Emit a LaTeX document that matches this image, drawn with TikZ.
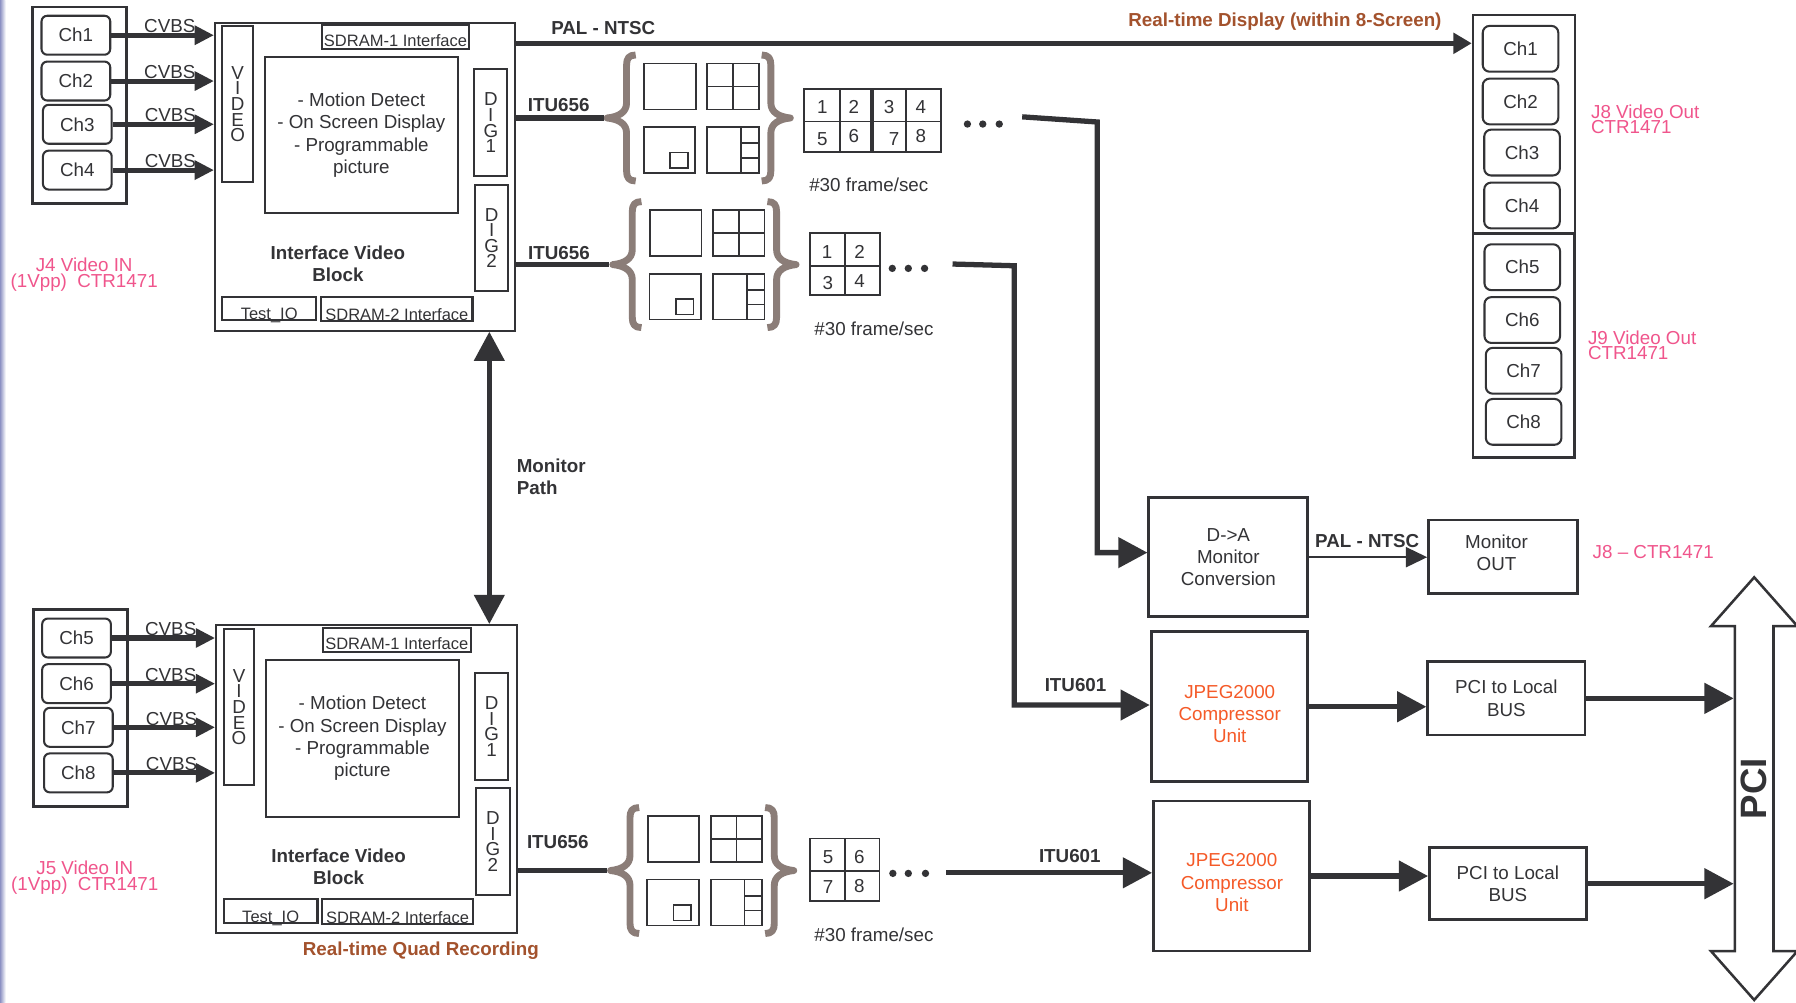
\documentclass[tikz,border=0pt]{standalone}
\usepackage{fontspec}
\setmainfont{Liberation Sans}
\usetikzlibrary{arrows.meta,shapes.arrows}
\definecolor{ink}{RGB}{51,51,54}
\definecolor{bracegray}{RGB}{139,125,120}
\definecolor{labelbrown}{RGB}{163,82,45}
\definecolor{jackpink}{RGB}{240,85,140}
\definecolor{jpegorange}{RGB}{245,90,40}
\definecolor{edgeblue}{RGB}{140,145,195}

\tikzset{
    screens/.pic={
        \draw[brace] (28,-55) .. controls (22,-55) and (20,-52) .. (20,-46) -- (20,-13) .. controls (20,-5) and (13,-1) .. (3,0) .. controls (13,1) and (20,5) .. (20,13) -- (20,46) .. controls (20,52) and (22,55) .. (28,55);
        \draw[brace] (138,-55) .. controls (144,-55) and (146,-52) .. (146,-46) -- (146,-13) .. controls (146,-5) and (153,-1) .. (163,0) .. controls (153,1) and (146,5) .. (146,13) -- (146,46) .. controls (146,52) and (144,55) .. (138,55);
        \draw[screen] (35.5,-47.5) rectangle (80.5,-7.5);
        \draw[screen] (90.5,-47.5) rectangle (135.5,-7.5) (113,-47.5) -- (113,-7.5) (90.5,-27.5) -- (135.5,-27.5);
        \draw[screen] (35,8) rectangle (80,48) (58,30) rectangle (73.5,43.5);
        \draw[screen] (90.5,8) rectangle (135.5,48) (120,8) -- (120,48) (120,22) -- (135.5,22) (120,35) -- (135.5,35);
        \coordinate (-in) at (0,0);
    }
}

\begin{document}
\begin{tikzpicture}[x=0.5pt,y=-0.5pt,
    txt/.style={font=\fontsize{8.2}{9.7}\selectfont, text=ink, align=center, inner sep=0pt},
    lbl/.style={txt, font=\fontsize{8.2}{9.7}\selectfont\bfseries},
    jack/.style={txt, font=\fontsize{8.2}{7}\selectfont, text=jackpink},
    box/.style={txt, draw=ink, line width=0.9pt},
    chbox/.style={box, rounded corners=2.5pt, minimum width=30pt, minimum height=17pt},
    choutbox/.style={box, rounded corners=3pt, minimum width=33pt, minimum height=20pt},
    iface/.style={box, font=\fontsize{7.2}{8}\selectfont, text depth=0pt},
    letters/.style={font=\fontsize{8.2}{6.8}\selectfont},
    unit/.style={box, line width=1.2pt},
    sig/.style={draw=ink, line width=2.2pt, -{Triangle[length=8.4pt,width=8pt]}},
    palsig/.style={draw=ink, line width=2.3pt, -{Triangle[length=8pt,width=8.8pt]}},
    bigsig/.style={draw=ink, line width=2.3pt, -{Triangle[length=12.75pt,width=13pt]}},
    monsig/.style={bigsig, {Triangle[length=12.75pt,width=13pt]}-{Triangle[length=12.75pt,width=13pt]}},
    thinsig/.style={draw=ink, line width=0.85pt, -{Triangle[length=9.3pt,width=8.75pt]}},
    bus/.style={draw=ink, line width=2.2pt},
    cvbs/.style={txt, pos=0.57, anchor=base, yshift=1pt},
    brace/.style={draw=bracegray, line width=3pt, line join=round},
    screen/.style={draw=ink, line width=0.7pt},
    cell/.style={draw=ink, line width=0.8pt},
  ]
    \fill[white] (0,0) rectangle (1568,875);
    \useasboundingbox (0,0) rectangle (1568,875);
    \shade[left color=edgeblue, right color=white] (0,0) rectangle (5,875);

    \node[box, line width=1.1pt, minimum width=41pt, minimum height=85.75pt] (inA) at (69.5,91.75) {};
    \foreach \i/\x/\y in {1/66.25/30.75, 2/66.25/70.75, 3/67.5/108.5, 4/67.5/148.5}
        \node[chbox] (chA\i) at (\x,\y) {Ch\i};
    \node[box, minimum width=131.15pt, minimum height=134.45pt] (blockA) at (318.85,154.25) {};
    \node[box, letters, minimum width=13.5pt, minimum height=68.15pt] (videoA) at (207.5,90.85) {V\\I\\D\\E\\O};
    \node[iface, text height=8.2pt, minimum width=64.25pt, minimum height=10.5pt] (sdramA1) at (345.25,32.3) {SDRAM-1 Interface};
    \node[box, minimum width=84.5pt, minimum height=68pt] (coreA) at (315.5,118) {- Motion Detect\\- On Screen Display\\- Programmable\\picture};
    \node[box, letters, minimum width=14.5pt, minimum height=46.75pt] (digA1) at (428.5,107.25) {D\\I\\G\\1};
    \node[box, letters, minimum width=14.25pt, minimum height=46.25pt] (digA2) at (429.25,207.75) {D\\I\\G\\2};
    \node[iface, text height=10pt, minimum width=41pt, minimum height=10.2pt] (testA) at (235,269.2) {Test\_IO};
    \node[iface, text height=10pt, minimum width=66pt, minimum height=10.5pt] (sdramA2) at (346.5,269.5) {SDRAM-2 Interface};
    \node[lbl] (titleA) at (295,230.3) {Interface Video\\Block};
    \node[jack] (jfour) at (73.5,240) {J4 Video IN\\(1Vpp)~ CTR1471};
    \foreach \i in {1,...,4}
        \draw[sig] (chA\i.east) -- node[cvbs] (cvbsA\i) {CVBS} (chA\i.east -| blockA.west);

    \node[box, line width=1.1pt, minimum width=40.9pt, minimum height=86pt] (inB) at (70.3,618) {};
    \foreach \i/\x/\y in {5/66.8/557, 6/66.8/596.85, 7/68.45/635, 8/68.45/674.75}
        \node[chbox] (chB\i) at (\x,\y) {Ch\i};
    \node[box, minimum width=131.15pt, minimum height=134.6pt] (blockB) at (319.85,680.3) {};
    \node[box, letters, minimum width=13.3pt, minimum height=68.1pt] (videoB) at (208.7,617.3) {V\\I\\D\\E\\O};
    \node[iface, text height=8.2pt, minimum width=64.4pt, minimum height=10.5pt] (sdramB1) at (346.4,558.5) {SDRAM-1 Interface};
    \node[box, minimum width=84.4pt, minimum height=68.4pt] (coreB) at (316.4,644.6) {- Motion Detect\\- On Screen Display\\- Programmable\\picture};
    \node[box, letters, minimum width=14.4pt, minimum height=46.85pt] (digB1) at (429.2,634.15) {D\\I\\G\\1};
    \node[box, letters, minimum width=14.55pt, minimum height=46.85pt] (digB2) at (430.35,734.55) {D\\I\\G\\2};
    \node[iface, text height=10pt, minimum width=40.9pt, minimum height=10.2pt] (testB) at (236.3,795.4) {Test\_IO};
    \node[iface, text height=10pt, minimum width=65.9pt, minimum height=10.75pt] (sdramB2) at (347.1,796) {SDRAM-2 Interface};
    \node[lbl] (titleB) at (295.6,756.7) {Interface Video\\Block};
    \node[jack] (jfive) at (74,766.3) {J5 Video IN\\(1Vpp)~ CTR1471};
    \node[lbl, text=labelbrown] (quadrec) at (367.4,830) {Real-time Quad Recording};
    \foreach \i in {5,...,8}
        \draw[sig] (chB\i.east) -- node[cvbs] (cvbsB\i) {CVBS} (chB\i.east -| blockB.west);

    \coordinate (mpA) at (blockA.south -| 427.2,0);
    \draw[monsig] (mpA) -- (mpA |- blockB.north);
    \node[lbl, anchor=west, align=left] (monpath) at (450.8,416.4) {Monitor\\Path};

    \node[box, line width=1.1pt, minimum width=44.5pt, minimum height=95.25pt] (outA) at (1330.5,108.25) {};
    \node[box, line width=1.1pt, minimum width=44.25pt, minimum height=97.65pt] (outB) at (1330.25,301.65) {};
    \foreach \i/\x/\y in {1/1327.5/42.6, 2/1327.5/88.6, 3/1328.8/133.2, 4/1328.8/179.4, 5/1329/233.3, 6/1329/279.4, 7/1330.2/323.7, 8/1330.2/368.3}
        \node[choutbox] (chO\i) at (\x,\y) {Ch\i};
    \node[jack, anchor=west, align=left, font=\fontsize{8.2}{6.75}\selectfont] (jeight) at (1388.7,104.25) {J8 Video Out\\CTR1471};
    \node[jack, anchor=west, align=left, font=\fontsize{8.2}{6.75}\selectfont] (jnine) at (1386,301.25) {J9 Video Out\\CTR1471};

    \draw[palsig] (blockA.east |- 0,37.8) -- (outA.west |- 0,37.8);
    \node[lbl] (palA) at (526.7,24.8) {PAL - NTSC};
    \node[lbl, text=labelbrown] (rtdisp) at (1121.8,18.8) {Real-time Display (within 8-Screen)};

    \pic (grpA1) at (527,103) {screens};
    \pic (grpA2) at (532,231) {screens};
    \pic (grpB) at (530,760) {screens};
    \draw[bus] (blockA.east |- grpA1-in) -- (grpA1-in);
    \draw[bus] (blockA.east |- grpA2-in) -- (grpA2-in);
    \draw[bus] (blockB.east |- grpB-in) -- (grpB-in);
    \node[lbl] (ituA1) at (487.8,91.75) {ITU656};
    \node[lbl] (ituA2) at (488,221) {ITU656};
    \node[lbl] (ituB) at (487,735.3) {ITU656};

    \draw[cell] (702,78) rectangle (821.3,132.4) (733,78) -- (733,132.4) (791,78) -- (791,132.4) (702,106) -- (821.3,106);
    \draw[cell, line width=1.6pt] (761.5,78) -- (761.5,132.4);
    \foreach \n/\x/\y in {1/718/93.7, 2/745.4/93.7, 3/776.2/93.7, 4/803.9/93.7, 5/718/121.7, 6/745.4/118.7, 7/780.5/121.7, 8/803.9/118.7}
        \node[txt] (tileA\n) at (\x,\y) {\n};
    \draw[cell] (707,203.7) rectangle (768,257.6) (737.8,203.7) -- (737.8,257.6) (707,232) -- (768,232);
    \foreach \n/\x/\y in {1/722.1/219.7, 2/750.5/219.7, 3/722.7/247.4, 4/750.5/245}
        \node[txt] (quadA\n) at (\x,\y) {\n};
    \draw[cell] (707.4,732) rectangle (767.8,786.6) (737.4,732) -- (737.4,786.6) (707.4,760.5) -- (767.8,760.5);
    \foreach \n/\x/\y in {5/723/748, 6/750.3/748, 7/723/774.7, 8/750.3/773.5}
        \node[txt] (quadB\n) at (\x,\y) {\n};
    \foreach \x in {844.6,858,872.4}
        \fill[ink] (\x,108.3) circle (1.6pt);
    \foreach \x in {779,793,807.2}
        \fill[ink] (\x,234.3) circle (1.6pt);
    \foreach \x in {779.5,793,808}
        \fill[ink] (\x,762.5) circle (1.6pt);
    \node[txt] (rateA1) at (758.5,161.5) {\#30 frame/sec};
    \node[txt] (rateA2) at (763,286.8) {\#30 frame/sec};
    \node[txt] (rateB) at (763,816) {\#30 frame/sec};

    \node[unit, minimum width=69.4pt, minimum height=51.95pt] (daconv) at (1072.4,486.45) {D->A\\Monitor\\Conversion};
    \node[unit, minimum width=64.9pt, minimum height=32pt] (monout) at (1312.1,486) {};
    \node[txt] (monouttext) at (1306.5,482.5) {Monitor\\OUT};
    \node[unit, minimum width=68.4pt, minimum height=65.5pt] (jpegA) at (1073.4,617) {};
    \node[txt, text=jpegorange] (jpegAtext) at (1073.6,623.2) {JPEG2000\\Compressor\\Unit};
    \node[unit, minimum width=68.15pt, minimum height=65.5pt] (jpegB) at (1075.15,764.8) {};
    \node[txt, text=jpegorange] (jpegBtext) at (1075.5,770.6) {JPEG2000\\Compressor\\Unit};
    \node[unit, minimum width=68.6pt, minimum height=32pt] (pcibA) at (1315.1,609.7) {PCI to Local\\BUS};
    \node[unit, minimum width=68.4pt, minimum height=31.5pt] (pcibB) at (1316.4,771.5) {PCI to Local\\BUS};
    \node[draw=ink, line width=1.1pt, double arrow, rotate=90, minimum height=184.5pt, minimum width=37pt,
        double arrow head extend=10.45pt, double arrow tip angle=83, inner xsep=0pt, inner ysep=2.2pt,
        font=\fontsize{16}{16}\selectfont\bfseries, text=ink] (pcibus) at (1531.5,688.5) {PCI};
    \node[lbl] (palB) at (1193.6,472) {PAL - NTSC};
    \node[jack] (jeightB) at (1443.4,481.7) {J8 – CTR1471};
    \node[lbl] (ituC) at (939,597.7) {ITU601};
    \node[lbl] (ituD) at (934,747) {ITU601};

    \coordinate (feedA1) at (892.4,102);
    \coordinate (feedA2) at (831.6,230.5);
    \coordinate (feedB) at (826.3,762);
    \draw[bigsig] (feedA1) -- (958,106.5) |- ([yshift=2pt]daconv.west);
    \draw[bigsig] (feedA2) -- (885.5,232) |- ([yshift=0.75pt]jpegA.west);
    \draw[bigsig] (feedB) -- (feedB -| jpegB.west);
    \draw[thinsig] (daconv.east) -- (daconv.east -| monout.west);
    \draw[bigsig] (jpegA.east) -- (jpegA.east -| pcibA.west);
    \draw[bigsig] (jpegB.east) -- (jpegB.east -| pcibB.west);
    \draw[bigsig] (pcibA.east) -- (pcibA.east -| pcibus.north);
    \draw[bigsig] (pcibB.east) -- (pcibB.east -| pcibus.north);
\end{tikzpicture}
\end{document}
